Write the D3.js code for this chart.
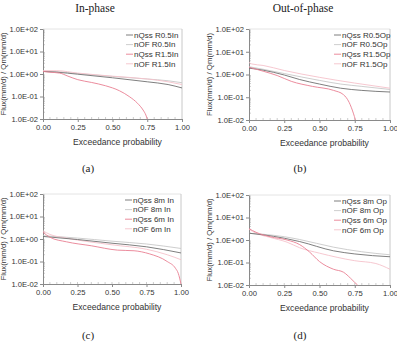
<!DOCTYPE html>
<html>
<head>
<meta charset="utf-8">
<script src="https://cdn.jsdelivr.net/npm/d3@7"></script>
<style>
  body { margin: 0; background: #fff; }
  svg text { font-family: Arial, "Liberation Sans", sans-serif; }
</style>
</head>
<body>
<svg width="397" height="344"></svg>
<script>
const svg = d3.select("svg");

// column titles and panel letters
const colTitles = ["In-phase", "Out-of-phase"];
const panelLetters = ["(a)", "(b)", "(c)", "(d)"];
const yTicks = [1e-2, 1e-1, 1e0, 1e1, 1e2];
const xTicks = [0, 0.25, 0.5, 0.75, 1];

// [exceedance probability, normalised flux]
const nQssR05In = [[0,1.3],[0.1,1.2],[0.25,0.98],[0.5,0.68],[0.75,0.45],[0.9,0.34],[1,0.24]];
const nOFR05In  = [[0,1.35],[0.1,1.28],[0.25,1.05],[0.5,0.78],[0.75,0.6],[0.9,0.5],[1,0.41]];
const nQssR15In = [[0,1.3],[0.05,1.2],[0.12,1.1],[0.18,0.8],[0.25,0.56],[0.35,0.42],[0.45,0.3],[0.55,0.18],[0.62,0.1],[0.68,0.05],[0.72,0.025],[0.74,0.015],[0.75,0.01]];
const nOFR15In  = [[0,1.4],[0.1,1.4],[0.25,1.1],[0.5,0.8],[0.75,0.6],[0.9,0.45],[1,0.34]];

const nQssR05Op = [[0,1.9],[0.1,1.55],[0.25,0.95],[0.36,0.6],[0.5,0.38],[0.65,0.25],[0.8,0.2],[1,0.17]];
const nOFR05Op  = [[0,2.2],[0.1,1.7],[0.25,1.1],[0.5,0.55],[0.65,0.38],[0.8,0.3],[1,0.22]];
const nQssR15Op = [[0,2.1],[0.1,1.4],[0.2,0.9],[0.3,0.5],[0.45,0.3],[0.6,0.2],[0.67,0.13],[0.71,0.06],[0.74,0.02],[0.755,0.01]];
const nOFR15Op  = [[0,3.4],[0.02,2.9],[0.1,2.5],[0.25,1.5],[0.5,0.75],[0.75,0.42],[1,0.25]];

const nQss8mIn = [[0,1.3],[0.25,0.95],[0.5,0.65],[0.75,0.45],[1,0.24]];
const nOF8mIn  = [[0,1.4],[0.25,1.1],[0.5,0.8],[0.75,0.6],[1,0.38]];
const nQss6mIn = [[0,2.0],[0.05,1.2],[0.17,0.75],[0.35,0.5],[0.54,0.32],[0.66,0.3],[0.77,0.22],[0.9,0.1],[0.96,0.05],[0.98,0.03],[1,0.01]];
const nOF6mIn  = [[0,2.3],[0.05,1.6],[0.17,1.1],[0.5,0.55],[0.75,0.35],[0.9,0.2],[1,0.12]];

const nQss8mOp = [[0,2.0],[0.1,1.7],[0.25,1.2],[0.36,0.85],[0.6,0.33],[0.75,0.24],[1,0.18]];
const nOF8mOp  = [[0,2.0],[0.1,1.8],[0.25,1.4],[0.36,1.05],[0.6,0.48],[0.8,0.3],[1,0.22]];
const nQss6mOp = [[0,3.2],[0.05,2.2],[0.15,1.4],[0.27,1.0],[0.36,0.62],[0.43,0.29],[0.5,0.11],[0.6,0.05],[0.67,0.037],[0.72,0.02],[0.75,0.013],[0.77,0.01]];
const nOF6mOp  = [[0,3.0],[0.05,2.0],[0.15,1.3],[0.27,0.8],[0.36,0.45],[0.5,0.26],[0.75,0.12],[0.9,0.09],[1,0.05]];

const colors = ["#707070", "#c8c8c8", "#e97f92", "#f5c2cb"];

const panels = [
  { x0: 43, x1: 182, y0: 29, y1: 119, names: ["nQss R0.5In", "nOF R0.5In", "nQss R1.5In", "nOF R1.5In"],
    series: [nQssR05In, nOFR05In, nQssR15In, nOFR15In] },
  { x0: 249, x1: 390, y0: 29, y1: 120, names: ["nQss R0.5Op", "nOF R0.5Op", "nQss R1.5Op", "nOF R1.5Op"],
    series: [nQssR05Op, nOFR05Op, nQssR15Op, nOFR15Op] },
  { x0: 43, x1: 181, y0: 194, y1: 284, names: ["nQss 8m In", "nOF 8m In", "nQss 6m In", "nOF 6m In"],
    series: [nQss8mIn, nOF8mIn, nQss6mIn, nOF6mIn] },
  { x0: 249, x1: 390, y0: 195, y1: 285, names: ["nQss 8m Op", "nOF 8m Op", "nQss 6m Op", "nOF 6m Op"],
    series: [nQss8mOp, nOF8mOp, nQss6mOp, nOF6mOp] }
];

// column titles (serif)
colTitles.forEach((t, i) => {
  svg.append("text")
    .attr("x", i === 0 ? 95 : 303).attr("y", 12)
    .attr("text-anchor", "middle")
    .style("font-family", "'Liberation Serif', 'Times New Roman', serif")
    .style("font-size", "11.5px")
    .attr("fill", "#222")
    .text(t);
});

panels.forEach((p, i) => {
  const x = d3.scaleLinear().domain([0, 1]).range([p.x0, p.x1]);
  const y = d3.scaleLog().domain([1e-2, 1e2]).range([p.y1, p.y0]);
  const g = svg.append("g");

  // frame
  g.append("line").attr("x1", p.x0).attr("x2", p.x1).attr("y1", p.y0).attr("y2", p.y0)
    .attr("stroke", "#e4e4e4");
  g.append("line").attr("x1", p.x1).attr("x2", p.x1).attr("y1", p.y0).attr("y2", p.y1)
    .attr("stroke", "#c8c8c8");

  // minor ticks
  const minorY = [];
  for (let e = -2; e < 2; e++) for (let m = 2; m < 10; m++) minorY.push(m * Math.pow(10, e));
  g.selectAll(".my").data(minorY).join("line")
    .attr("x1", p.x0).attr("x2", p.x0 + 2)
    .attr("y1", d => y(d)).attr("y2", d => y(d))
    .attr("stroke", "#aaa").attr("stroke-width", 0.6);
  g.selectAll(".mx").data(d3.range(0.05, 1, 0.05)).join("line")
    .attr("x1", d => x(d)).attr("x2", d => x(d))
    .attr("y1", p.y1).attr("y2", p.y1 - 2)
    .attr("stroke", "#aaa").attr("stroke-width", 0.6);

  const yAxis = g.append("g").attr("transform", `translate(${p.x0},0)`)
    .call(d3.axisLeft(y).tickValues(yTicks).tickSize(3).tickSizeOuter(0)
      .tickFormat(d => d.toExponential(1).toUpperCase().replace(/E([+-])(\d)$/, "E$10$2")));
  const xAxis = g.append("g").attr("transform", `translate(0,${p.y1})`)
    .call(d3.axisBottom(x).tickValues(xTicks).tickSize(3).tickSizeOuter(0)
      .tickFormat(d3.format(".2f")));
  [yAxis, xAxis].forEach(a => {
    a.select(".domain").attr("stroke", "#8a8a8a");
    a.selectAll(".tick line").attr("stroke", "#8a8a8a");
    a.selectAll("text").attr("fill", "#333").style("font-size", "7.6px");
  });
  yAxis.selectAll("text").attr("x", -5);
  xAxis.selectAll("text").attr("y", 6);

  // series
  const line = d3.line().x(d => x(d[0])).y(d => y(d[1])).curve(d3.curveMonotoneX);
  [1, 3, 0, 2].forEach(k => {
    g.append("path").datum(p.series[k])
      .attr("fill", "none").attr("stroke", colors[k]).attr("stroke-width", 0.9)
      .attr("d", line);
  });

  // legend
  const lg = g.append("g").attr("transform", `translate(${p.x1 - 56},${p.y0 + 6})`);
  p.names.forEach((n, k) => {
    lg.append("line").attr("x1", 0).attr("x2", 7).attr("y1", k * 9.6).attr("y2", k * 9.6)
      .attr("stroke", colors[k]).attr("stroke-width", 0.9);
    lg.append("text").attr("x", 8).attr("y", k * 9.6 + 2.8)
      .attr("fill", "#333").style("font-size", "8px").text(n);
  });

  // axis titles
  g.append("text")
    .attr("x", (p.x0 + p.x1) / 2 + 5).attr("y", p.y1 + 26)
    .attr("text-anchor", "middle").attr("fill", "#333").style("font-size", "8.6px")
    .text("Exceedance probability");
  g.append("text")
    .attr("transform", `translate(${p.x0 - 37},${(p.y0 + p.y1) / 2}) rotate(-90)`)
    .attr("text-anchor", "middle").attr("fill", "#333").style("font-size", "7.8px")
    .text("Flux(mm/d) / Qm(mm/d)");

  // panel letter
  g.append("text")
    .attr("x", i % 2 === 0 ? 88 : 300).attr("y", i < 2 ? 172 : 339)
    .attr("text-anchor", "middle")
    .style("font-family", "'Liberation Serif', 'Times New Roman', serif")
    .style("font-size", "11px").attr("fill", "#222")
    .text(panelLetters[i]);
});
</script>
</body>
</html>
